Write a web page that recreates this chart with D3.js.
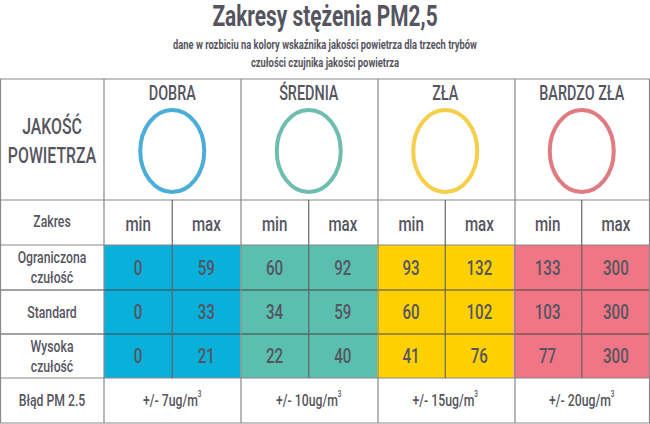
<!DOCTYPE html><html><head><meta charset="utf-8"><script src="https://cdn.jsdelivr.net/npm/d3@7"></script>
<style>body{margin:0;background:#fff}text{font-family:Roboto,"Liberation Sans",sans-serif;fill:#555560}</style></head><body><svg id="c" width="650" height="424"></svg><script>
const categories=["DOBRA","ŚREDNIA","ZŁA","BARDZO ZŁA"];
const modes=["Ograniczona\nczułość","Standard","Wysoka\nczułość"];
const minVals=[[0,60,93,133],[0,34,60,103],[0,22,41,77]];
const maxVals=[[59,92,132,300],[33,59,102,300],[21,40,76,300]];
const errors=["+/- 7ug/m","+/- 10ug/m","+/- 15ug/m","+/- 20ug/m"];
const fills=["#09b0da","#5bbfb0","#ffd100","#f07685"];
const rings=["#4aaed9","#6fbdb0","#f5cf4a","#e07b82"];
const svg=d3.select("#c");
const x=d3.scaleBand().domain(categories).range([104,650]);
const y=d3.scaleOrdinal().domain(["head","zakres","r0","r1","r2","err"]).range([79,200,245,290,334,378]);
const rowH={head:121,zakres:45,r0:45,r1:44,r2:44,err:45};
const txt=(xx,yy,s,size,w,anchor)=>svg.append("text").attr("transform",`translate(${xx},${yy}) scale(0.72,1)`).attr("text-anchor",anchor||"middle").attr("dominant-baseline","central").attr("font-size",size).attr("font-weight",w||"bold").text(s);
txt(325,16,"Zakresy stężenia PM2,5",29,"bold");
txt(325,44,"dane w rozbiciu na kolory wskaźnika jakości powietrza dla trzech trybów",13,"bold");
txt(325,62,"czułości czujnika jakości powietrza",13,"bold");
modes.forEach((m,i)=>{categories.forEach((c,j)=>{svg.append("rect").attr("x",x(c)).attr("y",y("r"+i)).attr("width",x.bandwidth()).attr("height",rowH["r"+i]).attr("fill",fills[j]);
 const h=x.bandwidth()/2, cy=y("r"+i)+rowH["r"+i]/2;
 txt(x(c)+h/2,cy,minVals[i][j],21,"500");txt(x(c)+h*1.5,cy,maxVals[i][j],21,"500");});
 const lines=m.split("\n"),cy=y("r"+i)+rowH["r"+i]/2;
 lines.forEach((l,k)=>txt(52,cy+(k-(lines.length-1)/2)*20,l,17,"500"));});
txt(52,127,"JAKOŚĆ",22,"500");txt(52,156,"POWIETRZA",22,"500");
categories.forEach((c,j)=>{const cx=x(c)+x.bandwidth()/2;txt(cx,93,c,20,"500");
 svg.append("ellipse").attr("cx",cx).attr("cy",151).attr("rx",32).attr("ry",41).attr("fill","none").attr("stroke",rings[j]).attr("stroke-width",4);
 const h=x.bandwidth()/2;txt(x(c)+h/2,224,"min",21,"500");txt(x(c)+h*1.5,224,"max",21,"500");
 const t=txt(cx,400,errors[j],17,"500");t.append("tspan").attr("font-size",9).attr("dy",-6).text("3");});
txt(52,221,"Zakres",17,"500");txt(52,400,"Błąd PM 2.5",17,"500");
const g=svg.append("g").attr("stroke","#888").attr("stroke-width",1.2);
[79,200,245,290,334,378,423].forEach(v=>g.append("line").attr("x1",0).attr("x2",650).attr("y1",v).attr("y2",v).attr("stroke",v>245&&v<378?"#444":"#888"));
[0.5,104,241,378,515,649.5].forEach(v=>g.append("line").attr("x1",v).attr("x2",v).attr("y1",79).attr("y2",423));
categories.forEach(c=>g.append("line").attr("x1",x(c)+x.bandwidth()/2).attr("x2",x(c)+x.bandwidth()/2).attr("y1",200).attr("y2",378).attr("stroke","#666"));
</script></body></html>
